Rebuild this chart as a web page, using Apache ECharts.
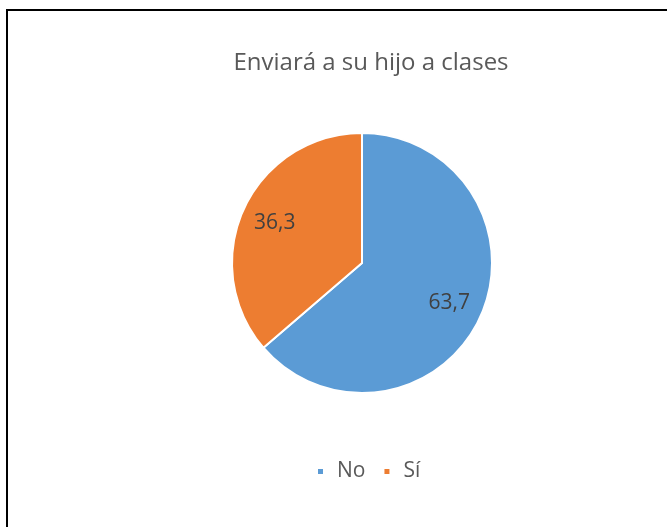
<!DOCTYPE html>
<html>
<head>
<meta charset="utf-8">
<script src="https://cdn.jsdelivr.net/npm/echarts@6/dist/echarts.min.js"></script>
<style>
  html, body { margin: 0; padding: 0; background: #fff; }
  #wrap { position: relative; width: 667px; height: 527px; overflow: hidden; }
  /* marco negro: sólo izquierda y arriba, como en el recorte */
  #frame { position: absolute; left: 6px; top: 9px; right: -10px; bottom: -10px;
           border-left: 2px solid #000; border-top: 2px solid #000; }
  #chart { position: absolute; left: 0; top: 0; width: 667px; height: 527px; }
</style>
</head>
<body>
<div id="wrap">
  <div id="frame"></div>
  <div id="chart"></div>
</div>
<script>
// datos
const titulo = "Enviará a su hijo a clases";
const categorias = ["No", "Sí"];
const valores = [63.7, 36.3];
const colores = ["#5B9BD5", "#ED7D31"];

const datos = categorias.map((c, i) => ({ name: c, value: valores[i] }));

const myChart = echarts.init(document.getElementById("chart"));
const option = {
  color: colores,
  title: {
    text: titulo,
    left: 366,
    top: 46,
    textAlign: "center",
    textStyle: {
      fontFamily: "Open Sans",
      fontSize: 24,
      fontWeight: "normal",
      color: "#595959",
    },
  },
  legend: {
    data: categorias,
    left: 311,
    top: 456,
    icon: "rect",
    itemWidth: 7,
    itemHeight: 7,
    itemGap: 17,
    textStyle: {
      fontFamily: "Open Sans",
      fontSize: 21,
      color: "#595959",
      padding: [0, 0, 0, 8],
    },
  },
  series: [
    {
      // pastel visible
      name: "pastel",
      type: "pie",
      center: [362, 263],
      radius: 130,
      startAngle: 90,
      clockwise: true,
      silent: true,
      label: { show: false },
      labelLine: { show: false },
      itemStyle: { borderColor: "#fff", borderWidth: 2 },
      data: datos,
    },
    {
      // anillo invisible solo para colocar las etiquetas
      name: "etiquetas",
      type: "pie",
      center: [362, 263],
      radius: [56, 130],
      startAngle: 90,
      clockwise: true,
      silent: true,
      itemStyle: { color: "rgba(0,0,0,0)" },
      label: {
        show: true,
        position: "inside",
        formatter: p => String(p.value).replace(".", ","),
        fontFamily: "Open Sans",
        fontSize: 21,
        color: "#404040",
      },
      labelLine: { show: false },
      data: datos,
    },
  ],
};
myChart.setOption(option);
</script>
</body>
</html>
